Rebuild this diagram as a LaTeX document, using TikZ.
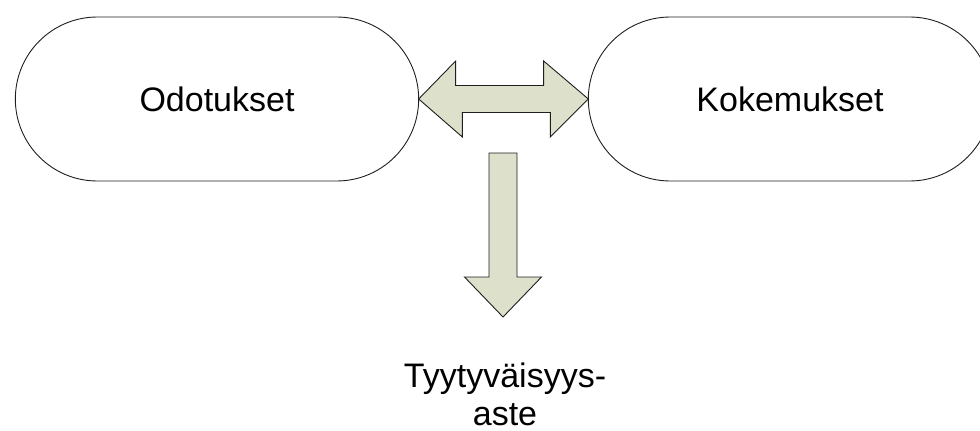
\documentclass[tikz,border=0pt]{standalone}
\usepackage{fontspec}
\setmainfont{Liberation Sans}
\usetikzlibrary{shapes.misc}
\definecolor{arrowfill}{RGB}{221,224,202}
\definecolor{edgeline}{RGB}{30,30,30}
\begin{document}
\begin{tikzpicture}[x=1pt,y=-1pt,
  pill/.style={rounded rectangle, draw=edgeline, line width=0.9pt, outer sep=0pt,
    minimum width=410pt, minimum height=164pt, font=\fontsize{34}{38}\selectfont},
  blockarrow/.style={draw=edgeline, fill=arrowfill, line width=0.9pt, line join=miter},
  caption/.style={align=center, font=\fontsize{34}{38}\selectfont, inner sep=0pt}]
  \useasboundingbox (0,0) rectangle (980,431);
  \begin{scope}
    \clip (0,0) rectangle (980,431);
    % the two rounded boxes
    \node[pill] (odo) at (217,99) {Odotukset};
    \node[pill] (kok) at (790,99) {Kokemukset};
  \end{scope}
  % two-headed block arrow between the boxes
  \draw[blockarrow] (odo.east) -- ++(37,-38) -- ++(0,24.5) -- ++(88,0) -- ++(0,-24.5)
    -- (kok.west) -- ++(-38,38) -- ++(0,-24.5) -- ++(-88,0) -- ++(0,24.5) -- cycle;
  % result label (base = baseline of its last line) and the arrow pointing at it
  \node[caption, anchor=base] (sat) at (505,425) {Tyytyväisyys-\\aste};
  \coordinate (dtop) at (503,153);
  \coordinate (dtip) at (503,317);
  \draw[blockarrow] (dtop) -- ++(14,0) -- ++(0,124) -- ++(24.5,0) -- (dtip)
    -- ++(-38.5,-40) -- ++(24.5,0) -- ++(0,-124) -- cycle;
\end{tikzpicture}
\end{document}
